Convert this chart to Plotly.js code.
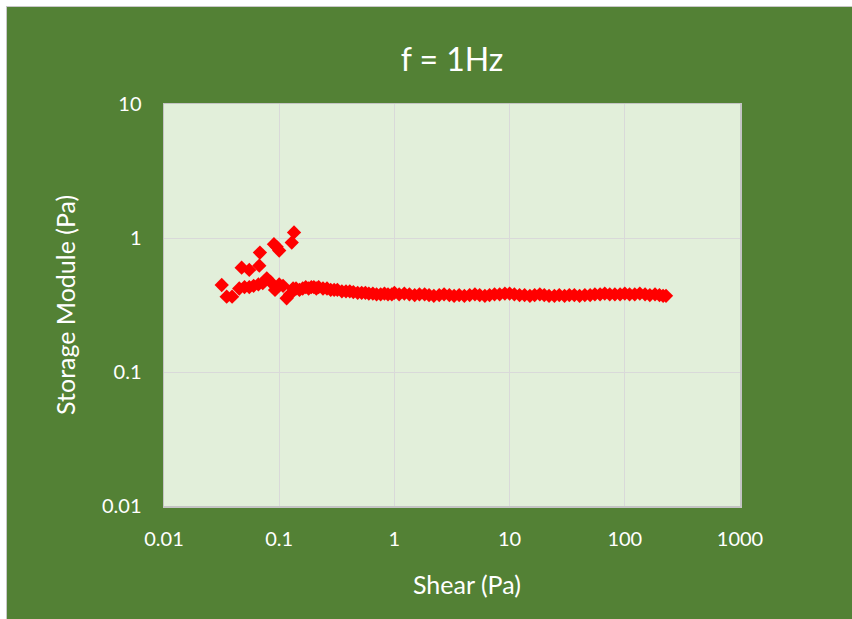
<!DOCTYPE html>
<html>
<head>
<meta charset="utf-8">
<script src="https://cdn.plot.ly/plotly-3.0.1.min.js"></script>
<style>
html,body{margin:0;padding:0;background:#ffffff;width:852px;height:619px;overflow:hidden;}
#chart{position:absolute;left:6px;top:6px;width:845px;height:612px;border-top:1px solid #c8c8c8;border-left:1px solid #c8c8c8;}
</style>
</head>
<body>
<div id="chart"></div>
<script>
// Early (start-up) points of the sweep
const earlyShear = [0.0317, 0.035, 0.039, 0.0472, 0.055, 0.0672, 0.068, 0.09, 0.095, 0.1, 0.1285, 0.1345];
const earlyModulus = [0.446, 0.365, 0.365, 0.601, 0.578, 0.622, 0.778, 0.9, 0.86, 0.805, 0.924, 1.10];

// Main branch of the sweep
const mainShear = [
  0.045, 0.05, 0.055, 0.06, 0.066, 0.072, 0.078, 0.084, 0.092, 0.1, 0.108, 0.116, 0.124, 0.132,
  0.14, 0.15, 0.16, 0.17, 0.18, 0.19, 0.2, 0.21, 0.22, 0.24, 0.26, 0.28, 0.3, 0.32, 0.35, 0.38,
  0.41, 0.44, 0.48, 0.52, 0.56, 0.6, 0.65, 0.7, 0.76, 0.82, 0.88, 0.95,
  1.0, 1.1, 1.22, 1.35, 1.5, 1.65, 1.83, 2.0, 2.2, 2.45, 2.7, 3.0, 3.3, 3.65, 4.05, 4.5, 5.0,
  5.5, 6.1, 6.7, 7.4, 8.2, 9.1,
  10, 11, 12.2, 13.5, 15, 16.5, 18.3, 20, 22, 24.5, 27, 30, 33, 36.5, 40.5, 45, 50, 55, 61, 67,
  74, 82, 91,
  100, 110, 122, 135, 150, 165, 183, 200, 215, 228
];
const mainModulus = [
  0.42, 0.43, 0.43, 0.44, 0.45, 0.46, 0.50, 0.47, 0.41, 0.45, 0.44, 0.355, 0.38, 0.42,
  0.42, 0.41, 0.42, 0.43, 0.42, 0.43, 0.43, 0.42, 0.43, 0.42, 0.42, 0.41, 0.41, 0.41, 0.40, 0.40,
  0.40, 0.395, 0.39, 0.39, 0.39, 0.385, 0.385, 0.38, 0.38, 0.385, 0.38, 0.38,
  0.39, 0.38, 0.385, 0.38, 0.375, 0.38, 0.38, 0.375, 0.37, 0.375, 0.38, 0.375, 0.37, 0.375, 0.37, 0.375, 0.38,
  0.375, 0.37, 0.375, 0.38, 0.38, 0.385,
  0.385, 0.38, 0.375, 0.375, 0.37, 0.375, 0.38, 0.375, 0.37, 0.37, 0.375, 0.37, 0.375, 0.375, 0.37, 0.375, 0.375, 0.38, 0.38, 0.385,
  0.38, 0.38, 0.38,
  0.385, 0.38, 0.38, 0.385, 0.38, 0.375, 0.38, 0.375, 0.37, 0.37
];

const xTickVals = [0.01, 0.1, 1, 10, 100, 1000];
const xTickText = ["0.01", "0.1", "1", "10", "100", "1000"];
const yTickVals = [0.01, 0.1, 1, 10];
const yTickText = ["0.01", "0.1", "1", "10"];

const titleText = "f = 1Hz";
const xTitle = "Shear (Pa)";
const yTitle = "Storage Module (Pa)";

const FONT = "Lato, 'Open Sans', sans-serif";
const marker = {symbol: "diamond", size: 11, color: "#ff0000", line: {width: 0}};

const traces = [
  {x: mainShear, y: mainModulus, type: "scatter", mode: "markers", marker: marker, hoverinfo: "x+y"},
  {x: earlyShear, y: earlyModulus, type: "scatter", mode: "markers", marker: marker, hoverinfo: "x+y"}
];

const layout = {
  width: 845, height: 612,
  margin: {l: 157, r: 112, t: 97, b: 113},
  paper_bgcolor: "#538135",
  plot_bgcolor: "#e2efda",
  showlegend: false,
  font: {family: FONT, color: "#ffffff", size: 20},
  title: {text: titleText, font: {family: FONT, size: 32, color: "#ffffff"}, x: 0.5, xref: "paper", y: 0.913, yanchor: "middle"},
  xaxis: {
    type: "log", range: [-2, 3],
    tickvals: xTickVals, ticktext: xTickText,
    ticks: "outside", ticklen: 14, tickcolor: "rgba(0,0,0,0)",
    showgrid: true, gridcolor: "#d9d9d9", gridwidth: 1,
    showline: true, linecolor: "#c4c4c4", linewidth: 1.5, mirror: true,
    zeroline: false,
    tickfont: {family: FONT, size: 20, color: "#ffffff"}
  },
  yaxis: {
    type: "log", range: [-2, 1],
    tickvals: yTickVals, ticktext: yTickText,
    ticks: "outside", ticklen: 17, tickcolor: "rgba(0,0,0,0)",
    showgrid: true, gridcolor: "#d9d9d9", gridwidth: 1,
    showline: true, linecolor: "#c4c4c4", linewidth: 1.5, mirror: true,
    zeroline: false,
    tickfont: {family: FONT, size: 20, color: "#ffffff"}
  },
  annotations: [
    {text: xTitle, xref: "paper", yref: "paper", x: 0.526, y: -0.194, xanchor: "center", yanchor: "middle", showarrow: false,
     font: {family: FONT, size: 25, color: "#ffffff"}},
    {text: yTitle, xref: "paper", yref: "paper", x: -0.172, y: 0.5, xanchor: "center", yanchor: "middle", showarrow: false, textangle: -90,
     font: {family: FONT, size: 25, color: "#ffffff"}}
  ]
};

Plotly.newPlot("chart", traces, layout, {displayModeBar: false, staticPlot: true});
</script>
</body>
</html>
